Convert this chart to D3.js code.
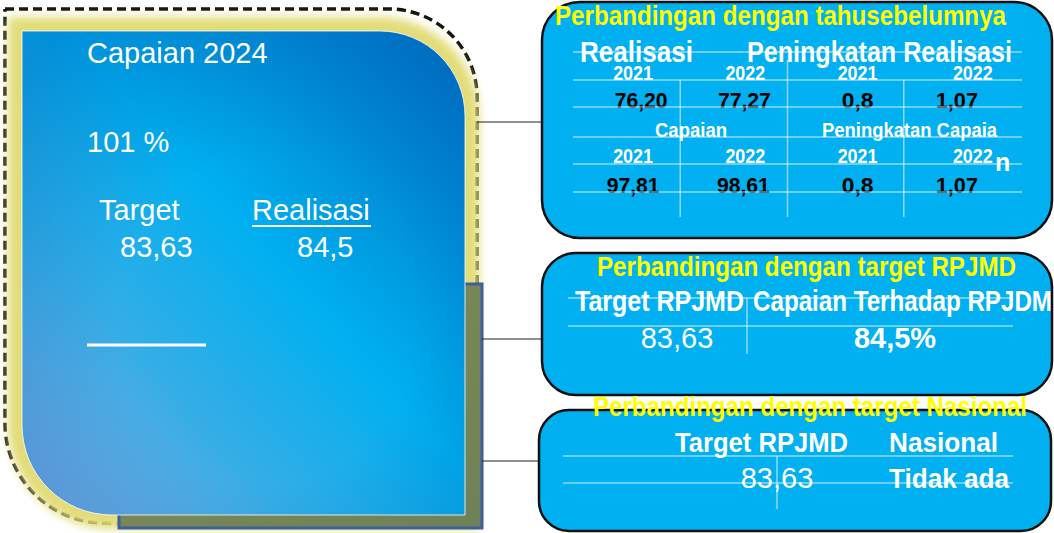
<!DOCTYPE html>
<html>
<head>
<meta charset="UTF-8">
<script src="https://d3js.org/d3.v7.min.js"></script>
<style>
  body { margin: 0; background: #fff; }
  text { font-family: "Liberation Sans", Arial, sans-serif; }
  .narrow { font-family: "Liberation Sans Narrow", "Liberation Sans", Arial, sans-serif; font-weight: bold; }
</style>
</head>
<body>
<svg id="chart" width="1054" height="533"></svg>
<script>
// ---- data ----
const capaianTitle = "Capaian 2024";
const capaianPersen = "101 %";
const mainLabels = ["Target", "Realisasi"];
const mainValues = ["83,63", "84,5"];

const box1Title = "Perbandingan dengan tahusebelumnya";
const topGroups = ["Realisasi", "Peningkatan Realisasi"];
const midGroups = ["Capaian", "Peningkatan Capaia"];
const years = ["2021", "2022", "2021", "2022"];
const realisasiRow = ["76,20", "77,27", "0,8", "1,07"];
const capaianRow = ["97,81", "98,61", "0,8", "1,07"];

const box2Title = "Perbandingan dengan target RPJMD";
const rpjmdHeads = ["Target RPJMD", "Capaian Terhadap RPJDM"];
const rpjmdValues = ["83,63", "84,5%"];

const box3Title = "Perbandingan dengan target Nasional";
const nasHeads = ["Target RPJMD", "Nasional"];
const nasValues = ["83,63", "Tidak ada"];

const svg = d3.select("#chart");
const defs = svg.append("defs");

const grad = defs.append("linearGradient").attr("id", "blueGrad")
  .attr("x1", 0).attr("y1", 1).attr("x2", 1).attr("y2", 0);
[[0, "#8eaadf"], [0.3, "#35ade6"], [0.55, "#00b0f0"], [1, "#0068bc"]]
  .forEach(s => grad.append("stop").attr("offset", s[0]).attr("stop-color", s[1]));

const rad = defs.append("radialGradient").attr("id", "shade")
  .attr("cx", 0.55).attr("cy", 0.6).attr("r", 0.75);
rad.append("stop").attr("offset", 0.45).attr("stop-color", "#0070c0").attr("stop-opacity", 0);
rad.append("stop").attr("offset", 1).attr("stop-color", "#0068bc").attr("stop-opacity", 0.45);

const olive = defs.append("linearGradient").attr("id", "oliveGrad")
  .attr("x1", 0).attr("y1", 0).attr("x2", 1).attr("y2", 1);
olive.append("stop").attr("offset", 0).attr("stop-color", "#7e8c55");
olive.append("stop").attr("offset", 1).attr("stop-color", "#6f8158");

defs.append("filter").attr("id", "glow").attr("x", -0.1).attr("y", -0.1).attr("width", 1.2).attr("height", 1.2)
  .append("feGaussianBlur").attr("stdDeviation", 5);

// ---- left panel ----
const left = svg.append("g");
const bluePath = "M22,31 H380 A85,85 0 0 1 465,116 V515 H112 A90,90 0 0 1 22,425 Z";

left.append("path")
  .attr("d", "M5,9 H389 A88,88 0 0 1 477,97 V290 M125,523 H105 A100,100 0 0 1 5,423 V9")
  .attr("fill", "none").attr("stroke", "#111").attr("stroke-width", 3.5)
  .attr("stroke-dasharray", "9,5");

left.append("path").attr("d", bluePath)
  .attr("fill", "none").attr("stroke", "#e2dc78").attr("stroke-width", 28)
  .attr("filter", "url(#glow)");

left.append("rect").attr("x", 119).attr("y", 284).attr("width", 363).attr("height", 244)
  .attr("fill", "url(#oliveGrad)").attr("stroke", "#3f5f9c").attr("stroke-width", 3);

left.append("path").attr("d", bluePath).attr("fill", "url(#blueGrad)");
left.append("path").attr("d", bluePath).attr("fill", "url(#shade)")
  .attr("stroke", "#ffffff").attr("stroke-opacity", 0.8).attr("stroke-width", 1);

function txt(g, s, x, y, size, opt = {}) {
  const t = g.append("text").attr("x", x).attr("y", y)
    .attr("font-size", size).attr("fill", opt.fill || "#fff")
    .attr("text-anchor", opt.anchor || "start").text(s);
  if (opt.cls) t.attr("class", opt.cls);
  if (opt.bold) t.attr("font-weight", "bold");
  if (opt.len) t.attr("textLength", opt.len).attr("lengthAdjust", "spacingAndGlyphs");
  return t;
}

txt(left, capaianTitle, 87, 63, 29);
txt(left, capaianPersen, 87, 152, 29);

const lx = d3.scalePoint().domain(mainLabels).range([99, 252]);
mainLabels.forEach(d => txt(left, d, lx(d), 220, 29));
left.append("line").attr("x1", 252).attr("x2", 371).attr("y1", 226).attr("y2", 226)
  .attr("stroke", "#fff").attr("stroke-width", 2);
mainValues.forEach((d, i) => txt(left, d, lx(mainLabels[i]) + (i ? 45 : 21), 257, 29));

left.append("line").attr("x1", 87).attr("x2", 206).attr("y1", 345).attr("y2", 345)
  .attr("stroke", "#fff").attr("stroke-width", 3);

// connectors
[[477, 122, 541], [482, 339, 542], [482, 461, 538]].forEach(c =>
  svg.append("line").attr("x1", c[0]).attr("x2", c[2]).attr("y1", c[1]).attr("y2", c[1])
    .attr("stroke", "#222").attr("stroke-width", 1.2));

// ---- right boxes ----
function box(x, y, w, h, r) {
  svg.append("rect").attr("x", x).attr("y", y).attr("width", w).attr("height", h)
    .attr("rx", r).attr("fill", "#00b0f0").attr("stroke", "#111").attr("stroke-width", 2.5);
}
function hline(g, x1, x2, y) {
  g.append("line").attr("x1", x1).attr("x2", x2).attr("y1", y).attr("y2", y)
    .attr("stroke", "#ffffff").attr("stroke-opacity", 0.55).attr("stroke-width", 1.5);
}
function vline(g, x, y1, y2) {
  g.append("line").attr("x1", x).attr("x2", x).attr("y1", y1).attr("y2", y2)
    .attr("stroke", "#ffffff").attr("stroke-opacity", 0.55).attr("stroke-width", 1.5);
}

// box 1
box(542, 2, 510, 236, 38);
const b1 = svg.append("g");
const col = d3.scaleBand().domain(d3.range(4)).range([573, 1022]);
const cx = i => col(i) + col.bandwidth() / 2;
txt(b1, box1Title, 555, 25, 27, { cls: "narrow", fill: "#ffff00", len: 451 });
txt(b1, topGroups[0], 580, 62, 29, { cls: "narrow", len: 113 });
txt(b1, topGroups[1], 747, 62, 29, { cls: "narrow", len: 265 });
years.forEach((d, i) => txt(b1, d, cx(i) + (i === 3 ? 7 : 4), 80, 20, { cls: "narrow", anchor: "middle", len: 40 }));
realisasiRow.forEach((d, i) => txt(b1, d, cx(i) + [12, 3, 4, -9][i], 108, 22, { cls: "narrow", fill: "#000", anchor: "middle", len: d.length * 10.6 }));
txt(b1, midGroups[0], 655, 137, 20, { cls: "narrow", len: 72 });
txt(b1, midGroups[1], 822, 137, 20, { cls: "narrow", len: 175 });
txt(b1, "n", 995, 171, 25, { cls: "narrow" });
years.forEach((d, i) => txt(b1, d, cx(i) + (i === 3 ? 7 : 4), 163, 20, { cls: "narrow", anchor: "middle", len: 40 }));
capaianRow.forEach((d, i) => txt(b1, d, cx(i) + [4, 2, 4, -9][i], 193, 22, { cls: "narrow", fill: "#000", anchor: "middle", len: d.length * 10.6 }));
[52, 80, 107, 137, 164, 192].forEach(y => hline(b1, 573, 1022, y));
vline(b1, col(1) - 5, 80, 217);
vline(b1, col(2) - 10, 60, 217);
vline(b1, col(3) - 6, 80, 217);

// box 2
box(542, 253, 510, 142, 34);
const b2 = svg.append("g");
txt(b2, box2Title, 597, 276, 27, { cls: "narrow", fill: "#ffff00", len: 419 });
txt(b2, rpjmdHeads[0], 575, 311, 29, { cls: "narrow", len: 169 });
txt(b2, rpjmdHeads[1], 753, 311, 29, { cls: "narrow", len: 299 });
txt(b2, rpjmdValues[0], 677, 348, 29, { anchor: "middle" });
txt(b2, rpjmdValues[1], 895, 348, 29, { anchor: "middle", bold: true });
hline(b2, 568, 1013, 298);
hline(b2, 568, 1013, 326);
vline(b2, 747, 298, 354);

// box 3
box(539, 410, 512, 121, 30);
const b3 = svg.append("g");
txt(b3, box3Title, 593, 416, 27, { cls: "narrow", fill: "#ffff00", len: 434 });
txt(b3, nasHeads[0], 675, 452, 27, { cls: "narrow", len: 173 });
txt(b3, nasHeads[1], 889, 452, 27, { cls: "narrow", len: 109 });
txt(b3, nasValues[0], 777, 488, 29, { anchor: "middle" });
txt(b3, nasValues[1], 889, 488, 28, { cls: "narrow", len: 120 });
hline(b3, 563, 1013, 456);
hline(b3, 563, 1013, 483);
vline(b3, 777, 456, 509);
</script>
</body>
</html>
